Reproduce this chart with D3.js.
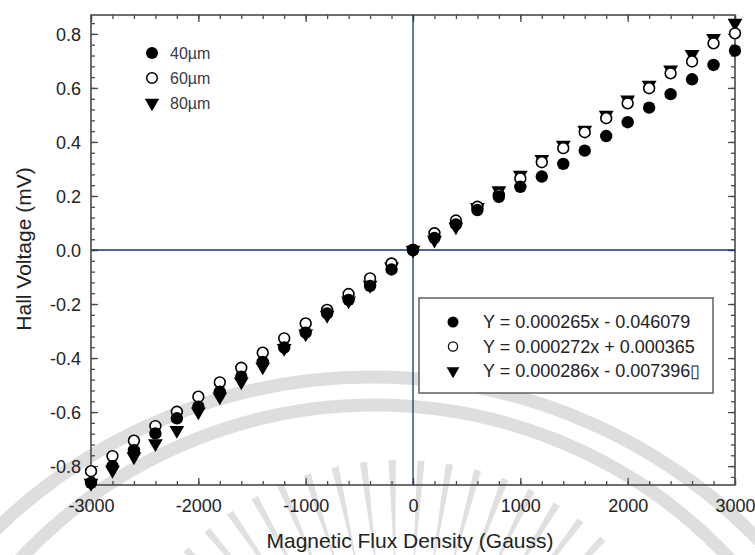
<!DOCTYPE html>
<html>
<head>
<meta charset="utf-8">
<script src="https://cdn.jsdelivr.net/npm/d3@7"></script>
<style>
  body { margin: 0; background: #ffffff; }
  svg { display: block; }
  text { font-family: Arial, "Liberation Sans", Helvetica, sans-serif; }
</style>
</head>
<body>
<svg id="chart" width="755" height="555"></svg>
<script>
// Magnetic flux density (Gauss) at which the Hall voltage was measured
const fluxGauss = [-3000, -2800, -2600, -2400, -2200, -2000, -1800, -1600, -1400, -1200, -1000,
                   -800, -600, -400, -200, 0, 200, 400, 600, 800, 1000,
                   1200, 1400, 1600, 1800, 2000, 2200, 2400, 2600, 2800, 3000];

// Hall voltage (mV) for each sensor thickness
const hall40 = [-0.862, -0.800, -0.741, -0.679, -0.623, -0.580, -0.525, -0.469, -0.414, -0.361, -0.306,
                -0.235, -0.185, -0.133, -0.072, 0.000, 0.045, 0.095, 0.148, 0.197, 0.234,
                0.272, 0.319, 0.368, 0.422, 0.473, 0.527, 0.577, 0.632, 0.685, 0.738];
const hall60 = [-0.819, -0.763, -0.706, -0.652, -0.599, -0.543, -0.490, -0.436, -0.380, -0.327, -0.272,
                -0.222, -0.163, -0.105, -0.050, 0.000, 0.062, 0.109, 0.160, 0.204, 0.265,
                0.325, 0.377, 0.436, 0.488, 0.543, 0.599, 0.654, 0.698, 0.765, 0.802];
const hall80 = [-0.863, -0.815, -0.765, -0.716, -0.667, -0.599, -0.543, -0.488, -0.432, -0.364, -0.310,
                -0.241, -0.188, -0.130, -0.062, 0.000, 0.037, 0.086, 0.158, 0.220, 0.278,
                0.336, 0.389, 0.444, 0.500, 0.556, 0.611, 0.667, 0.725, 0.784, 0.840];

const seriesNames = ["40\u00b5m", "60\u00b5m", "80\u00b5m"];
const fitLabels = ["Y = 0.000265x - 0.046079",
                   "Y = 0.000272x + 0.000365",
                   "Y = 0.000286x - 0.007396\u25af"];

const xTickValues = [-3000, -2000, -1000, 0, 1000, 2000, 3000];
const yTickValues = [-0.8, -0.6, -0.4, -0.2, 0.0, 0.2, 0.4, 0.6, 0.8];

const xTitle = "Magnetic Flux Density (Gauss)";
const yTitle = "Hall Voltage (mV)";

// ---- layout ----
const plot = { left: 91, right: 735, top: 15, bottom: 485 };

const svg = d3.select("#chart");

const x = d3.scaleLinear().domain([-3000, 3000]).range([plot.left, plot.right]);
const y = d3.scaleLinear().domain([-0.87, 0.87]).range([plot.bottom, plot.top]);

// ---- faint background emblem ----
const emblem = svg.append("g").attr("fill", "none").attr("stroke", "#dedede");
emblem.append("circle").attr("cx", 372).attr("cy", 917).attr("r", 540).attr("stroke-width", 13);
emblem.append("circle").attr("cx", 375).attr("cy", 891).attr("r", 486).attr("stroke-width", 13);
const rayAngles = d3.range(-62, 63, 5.5);
const rayCx = 400, rayCy = 760;
emblem.selectAll("path.ray")
  .data(rayAngles)
  .join("path")
  .attr("class", "ray")
  .attr("stroke", "none")
  .attr("fill", "#e0e0e0")
  .attr("d", a => {
    const t = (a - 90) * Math.PI / 180;
    const r0 = 180, r1 = 300, hw = 0.012;
    const p = (r, ang) => [rayCx + r * Math.cos(ang), rayCy + r * Math.sin(ang)];
    const [ax, ay] = p(r0, t);
    const [bx, by] = p(r1, t - hw);
    const [cx, cy] = p(r1, t + hw);
    return `M${ax},${ay}L${bx},${by}L${cx},${cy}Z`;
  });

// ---- axes (ticks point inward on all four sides) ----
const frameColor = "#4a4a4a";
const majorLen = 7, minorLen = 4;

function tickGroup(axisGen, transform) {
  const g = svg.append("g").attr("transform", transform).call(axisGen);
  g.select(".domain").remove();
  g.selectAll("line").attr("stroke", frameColor).attr("stroke-width", 1.3);
  return g;
}

const xMinor = d3.range(-3000, 3001, 200);
const yMinor = d3.range(-0.84, 0.8401, 0.04).map(v => +v.toFixed(2));

// bottom
tickGroup(d3.axisBottom(x).tickValues(xMinor).tickSize(-minorLen).tickFormat(""), `translate(0,${plot.bottom})`);
const xAxisG = tickGroup(d3.axisBottom(x).tickValues(xTickValues).tickSize(-majorLen).tickFormat(d3.format("d")),
  `translate(0,${plot.bottom})`);
xAxisG.selectAll("text").attr("y", 27).attr("dy", 0).attr("font-size", 18).attr("fill", "#222")
  .text(d => d < 0 ? "-" + Math.abs(d) : String(d));
// top
tickGroup(d3.axisTop(x).tickValues(xMinor).tickSize(-minorLen).tickFormat(""), `translate(0,${plot.top})`);
tickGroup(d3.axisTop(x).tickValues(xTickValues).tickSize(-majorLen).tickFormat(""), `translate(0,${plot.top})`);
// left
tickGroup(d3.axisLeft(y).tickValues(yMinor).tickSize(-minorLen).tickFormat(""), `translate(${plot.left},0)`);
const yAxisG = tickGroup(d3.axisLeft(y).tickValues(yTickValues).tickSize(-majorLen).tickFormat(d3.format(".1f")),
  `translate(${plot.left},0)`);
yAxisG.selectAll("text").attr("x", -10).attr("dy", "0.36em").attr("font-size", 18).attr("fill", "#222")
  .text(d => (d < 0 ? "-" : "") + Math.abs(d).toFixed(1));
// right
tickGroup(d3.axisRight(y).tickValues(yMinor).tickSize(-minorLen).tickFormat(""), `translate(${plot.right},0)`);
tickGroup(d3.axisRight(y).tickValues(yTickValues).tickSize(-majorLen).tickFormat(""), `translate(${plot.right},0)`);

// frame
svg.append("rect")
  .attr("x", plot.left).attr("y", plot.top)
  .attr("width", plot.right - plot.left).attr("height", plot.bottom - plot.top)
  .attr("fill", "none").attr("stroke", frameColor).attr("stroke-width", 1.6);

// zero reference lines
const zeroColor = "#1b3270";
svg.append("line")
  .attr("x1", x(0)).attr("x2", x(0)).attr("y1", plot.top).attr("y2", plot.bottom)
  .attr("stroke", zeroColor).attr("stroke-width", 1.3);
svg.append("line")
  .attr("x1", plot.left).attr("x2", plot.right).attr("y1", y(0)).attr("y2", y(0))
  .attr("stroke", zeroColor).attr("stroke-width", 1.3);

// ---- axis titles ----
svg.append("text")
  .attr("x", x(0) - 3).attr("y", 548)
  .attr("text-anchor", "middle").attr("font-size", 21).attr("fill", "#222")
  .text(xTitle);
svg.append("text")
  .attr("transform", `translate(31,${y(0) - 1}) rotate(-90)`)
  .attr("text-anchor", "middle").attr("font-size", 21).attr("fill", "#222")
  .text(yTitle);

// ---- markers ----
const triangle = d3.symbol().type(d3.symbolTriangle);
function drawTriangles(g, pts, size) {
  g.selectAll("path").data(pts).join("path")
    .attr("d", triangle.size(size)())
    .attr("transform", d => `translate(${d[0]},${d[1]}) rotate(180)`)
    .attr("fill", "#000");
}

const pts80 = fluxGauss.map((b, i) => [x(b), y(hall80[i])]);
const pts60 = fluxGauss.map((b, i) => [x(b), y(hall60[i])]);
const pts40 = fluxGauss.map((b, i) => [x(b), y(hall40[i])]);

drawTriangles(svg.append("g"), pts80, 95);
svg.append("g").selectAll("circle").data(pts60).join("circle")
  .attr("cx", d => d[0]).attr("cy", d => d[1]).attr("r", 5.4)
  .attr("fill", "#fff").attr("stroke", "#000").attr("stroke-width", 1.6);
svg.append("g").selectAll("circle").data(pts40).join("circle")
  .attr("cx", d => d[0]).attr("cy", d => d[1]).attr("r", 6.2)
  .attr("fill", "#000");

// ---- legend: series names (top left) ----
const legend1 = svg.append("g");
const l1x = 152, l1y0 = 53, l1dy = 25;
seriesNames.forEach((name, i) => {
  const cy = l1y0 + i * l1dy;
  if (i === 0) legend1.append("circle").attr("cx", l1x).attr("cy", cy).attr("r", 6).attr("fill", "#000");
  if (i === 1) legend1.append("circle").attr("cx", l1x).attr("cy", cy).attr("r", 5.3)
    .attr("fill", "#fff").attr("stroke", "#000").attr("stroke-width", 1.5);
  if (i === 2) drawTriangles(legend1.append("g"), [[l1x, cy]], 90);
  legend1.append("text").attr("x", l1x + 18).attr("y", cy).attr("dy", "0.36em")
    .attr("font-size", 16).attr("fill", "#3a3a48").text(name);
});

// ---- legend: linear fits (boxed, lower right) ----
const box = { x: 419, y: 298, w: 294, h: 95 };
const legend2 = svg.append("g");
legend2.append("rect")
  .attr("x", box.x).attr("y", box.y).attr("width", box.w).attr("height", box.h)
  .attr("fill", "#fff").attr("stroke", "#555").attr("stroke-width", 1.4);
const l2x = 453, l2y0 = 322, l2dy = 24.5;
fitLabels.forEach((label, i) => {
  const cy = l2y0 + i * l2dy;
  if (i === 0) legend2.append("circle").attr("cx", l2x).attr("cy", cy).attr("r", 5.5).attr("fill", "#000");
  if (i === 1) legend2.append("circle").attr("cx", l2x).attr("cy", cy).attr("r", 4.6)
    .attr("fill", "#fff").attr("stroke", "#000").attr("stroke-width", 1.3);
  if (i === 2) drawTriangles(legend2.append("g"), [[l2x, cy]], 70);
  legend2.append("text").attr("x", 483).attr("y", cy).attr("dy", "0.36em")
    .attr("font-size", 18).attr("fill", "#222").text(label);
});
</script>
</body>
</html>
